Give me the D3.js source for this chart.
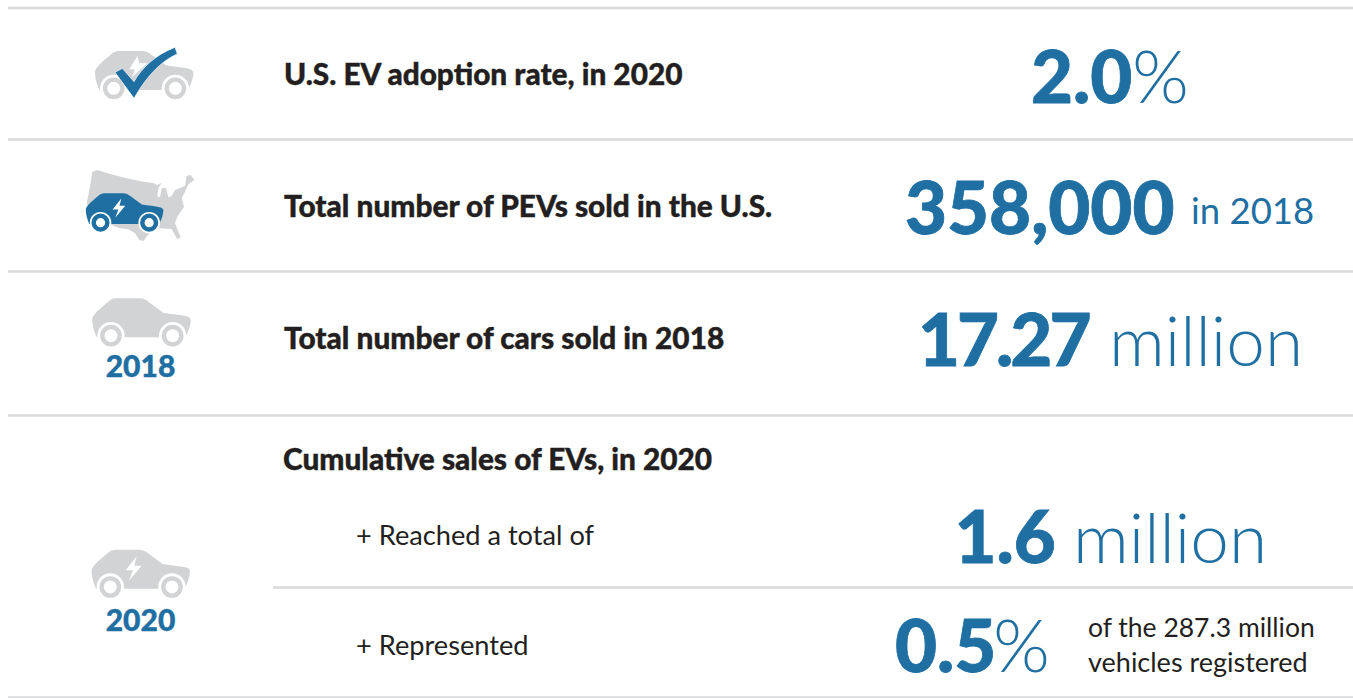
<!DOCTYPE html>
<html><head><meta charset="utf-8">
<script src="https://cdnjs.cloudflare.com/ajax/libs/d3/7.8.5/d3.min.js"></script>
<style>html,body{margin:0;background:#fff}svg{display:block}text{font-family:Lato,sans-serif;font-kerning:normal;font-variant-ligatures:common-ligatures}</style>
</head><body><svg id="c" width="1353" height="698"></svg>
<script>
const BLUE="#1f6fa3", GRAY="#d1d3d4", INK="#231f20", RULE="#d9dadb";
const ruleY=[8,139.5,271.5,415.5,587.5,697.5];
const ruleX0=[8,8,8,8,273,8];
const labels=[
 {t:"U.S. EV adoption rate, in 2020",x:284,y:84.5,s:29.8,w:900,b:.4},
 {t:"Total number of PEVs sold in the U.S.",x:284,y:216.5,s:29.8,w:900,b:.4},
 {t:"Total number of cars sold in 2018",x:284,y:348.5,s:29.8,w:900,b:.4},
 {t:"Cumulative sales of EVs, in 2020",x:283,y:469.5,s:29.8,w:900,b:.4},
 {t:"+ Reached a total of",x:356,y:545,s:27.2,w:400},
 {t:"+ Represented",x:356,y:655,s:27.2,w:400}];
const values=[
 {t:"2.0",x:1031,y:103,s:72.5,w:900,c:BLUE,b:.8},{t:"%",x:1132,y:103,s:73,w:300,c:BLUE},
 {t:"358,000",x:905,y:234,s:72.5,w:900,c:BLUE,b:.8},{t:"in 2018",x:1191,y:224,s:36.5,w:400,c:BLUE},
 {t:"17.27",x:918,y:366,s:72.5,w:900,c:BLUE,b:.8,ls:-3},{t:"million",x:1109,y:366,s:69.3,w:300,c:BLUE},
 {t:"1.6",x:954.5,y:563,s:72.5,w:900,c:BLUE,b:.8},{t:"million",x:1073,y:563,s:69.3,w:300,c:BLUE},
 {t:"0.5",x:895,y:672,s:72.5,w:900,c:BLUE,b:.8},{t:"%",x:993,y:672,s:73,w:300,c:BLUE},
 {t:"of the 287.3 million",x:1088,y:636.5,s:26.5,w:400,c:INK},{t:"vehicles registered",x:1088,y:672,s:27,w:400,c:INK}];
const years=[{t:"2018",x:140.5,y:377},{t:"2020",x:140.5,y:631}];
const bodyPath="M97 100C100 88 120 70 150 46C156 41 165 40 175 40L238 40C250 40 258 44 266 51L310 83C335 87 360 89 378 93C388 95 393 100 392 108C390 125 384 145 375 157L110 157C103 140 96 120 97 100Z";
const boltPath="M232 60L199 102L221 102L209 133L247 88L225 88Z";
const usPath="M97 35L112 30L150 42L200 55L250 65L283 70L290 75L306 68L296 82L292 108L300 112L305 85L318 83L325 112L335 108L345 90L375 78L380 48L392 45L403 60L385 73L375 95L365 115L372 140L352 170L345 190L362 232L352 238L335 207L300 205L275 212L250 243L238 240L225 220L205 208L180 205L140 190L105 185L90 150L80 130L90 80Z";
const checkPath="M165 127L187 115L222 155C245 115 285 75 345 52L352 72C310 90 265 130 222 205Z";
const svg=d3.select("#c");
svg.selectAll("line.r").data(ruleY).join("line").attr("class","r")
 .attr("x1",(d,i)=>ruleX0[i]).attr("x2",1353).attr("y1",d=>d).attr("y2",d=>d)
 .attr("stroke",RULE).attr("stroke-width",2.5);
function txt(d,anchor){const c=d.c||INK;return svg.append("text").attr("x",d.x).attr("y",d.y).attr("font-size",d.s).attr("font-weight",d.w).attr("fill",c).attr("stroke",d.b?c:"none").attr("stroke-width",d.b||0).attr("letter-spacing",d.ls||0).attr("text-anchor",anchor||"start").text(d.t);}
labels.forEach(d=>txt(d));
values.forEach(d=>txt(d));
years.forEach(d=>txt({...d,s:30,w:900,c:BLUE,b:.4},"middle"));
function car(tx,ty,k,col,bolt,sw){
 const g=svg.append("g").attr("transform",`translate(${tx},${ty}) scale(${k})`);
 g.append("path").attr("d",bodyPath).attr("fill",col);
 [153,338].forEach(x=>{
  g.append("circle").attr("cx",x).attr("cy",152).attr("r",41).attr("fill","#fff");
  g.append("circle").attr("cx",x).attr("cy",152).attr("r",26).attr("fill","#fff").attr("stroke",col).attr("stroke-width",sw||13);
 });
 if(bolt) g.append("path").attr("d",boltPath).attr("fill","#fff");
}
car(62.7,37.7,1/3,GRAY,false);
const g1=svg.append("g").attr("transform","translate(60,30) scale(0.3333)");
g1.append("path").attr("d","M232 78L208 118L224 118L216 142L262 100L238 100Z").attr("fill","#fff");
g1.append("path").attr("d",checkPath).attr("fill",BLUE).attr("stroke","#fff").attr("stroke-width",2);
svg.append("path").attr("transform","translate(60,160) scale(0.3333)").attr("d",usPath).attr("fill",GRAY);
car(60.3,182.7,0.263,BLUE,true,17);
car(60,285,1/3,GRAY,false);
car(59.3,536.3,1/3,GRAY,true);
</script></body></html>
